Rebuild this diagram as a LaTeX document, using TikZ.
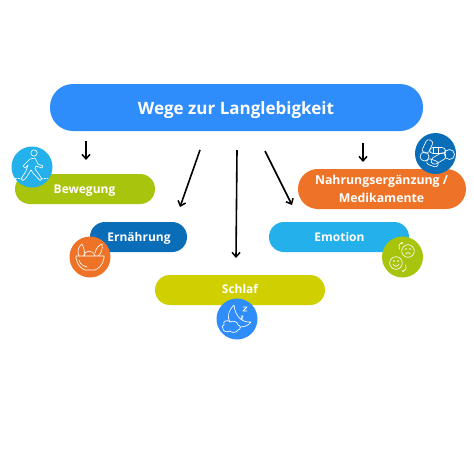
\documentclass[tikz,border=0pt]{standalone}
\usepackage{fontspec}
\setmainfont{Open Sans}
\usetikzlibrary{arrows.meta}
\definecolor{cBlue}{HTML}{2F8CFB}
\definecolor{cLime}{HTML}{A9C40C}
\definecolor{cDark}{HTML}{0A6DB8}
\definecolor{cYel}{HTML}{D0CF00}
\definecolor{cSky}{HTML}{24B0EA}
\definecolor{cOr}{HTML}{EE7326}
\tikzset{
  x=1pt,y=-1pt,
  pill/.style={font=\bfseries\fontsize{12}{15}\selectfont,text=white,align=center,inner sep=0pt,anchor=base},
  disc/.style={circle,minimum size=41pt,inner sep=0pt},
  conn/.style={draw=black,line width=1.6pt,-{Straight Barb[length=4.5pt,width=8pt,line width=1.5pt]}},
  ico/.style={draw=white,line width=.65pt,line join=round,line cap=round,fill=none}
}
\begin{document}
\begin{tikzpicture}
\useasboundingbox (0,0) rectangle (474,474);
\fill[white] (0,0) rectangle (474,474);
% bars
\fill[cBlue,rounded corners=23pt] (50,84) rectangle (423,131);
\fill[cLime,rounded corners=14.9pt] (15,174) rectangle (155,204);
\fill[cDark,rounded corners=14.9pt] (90,222) rectangle (187,252);
\fill[cYel,rounded corners=14.9pt] (155,275) rectangle (325,305);
\fill[cSky,rounded corners=14.9pt] (269,222) rectangle (409,252);
\fill[cOr,rounded corners=19.9pt] (298,169) rectangle (466,209);
% labels
\node[pill,font=\bfseries\fontsize{17}{20}\selectfont] (top) at (236,114) {Wege zur Langlebigkeit};
\node[pill] (bew) at (84.5,193.5) {Bewegung};
\node[pill] (ern) at (139,241.5) {Ernährung};
\node[pill] (sch) at (240,293.5) {Schlaf};
\node[pill] (emo) at (339.5,241) {Emotion};
\node[pill,font=\bfseries\fontsize{12.3}{17.4}\selectfont] (nah) at (381.5,184.5) {Nahrungsergänzung /};
\node[pill,font=\bfseries\fontsize{12.3}{17.4}\selectfont] (med) at (381.5,202.5) {Medikamente};
% discs
\node[disc,fill=cSky] (d1) at (32,167) {};
\node[disc,fill=cOr] (d2) at (90,257) {};
\node[disc,fill=cBlue] (d3) at (237,319) {};
\node[disc,fill=cLime] (d4) at (402.5,257) {};
\node[disc,fill=cDark] (d5) at (435.5,153.5) {};
% connectors
\coordinate (a1s) at (86,141); \coordinate (a1e) at (86,160);
\coordinate (a2s) at (200,150); \coordinate (a2e) at (180,207);
\coordinate (a3s) at (237,150); \coordinate (a3e) at (236,258);
\coordinate (a4s) at (265,151); \coordinate (a4e) at (292,205);
\coordinate (a5s) at (363,143); \coordinate (a5e) at (363,162);
\draw[conn] (a1s) -- (a1e);
\draw[conn] (a2s) -- (a2e);
\draw[conn] (a3s) -- (a3e);
\draw[conn] (a4s) -- (a4e);
\draw[conn] (a5s) -- (a5e);
% walker
\begin{scope}[shift={(d1)}]
\draw[ico] (2,-14) circle (3.2);
\draw[ico] (-2,-8) -- (3,-9) -- (6,-3) -- (11,-1) -- (10,1) -- (4,-1) -- (3,2) -- (6,6) -- (10,12) -- (8,13.5) -- (1,6) -- (-1,3) -- (-6,11) -- (-9,13.5) -- (-11,12) -- (-6,4) -- (-4,-2) -- (-7,1) -- (-9,-1) -- cycle;
\draw[ico,dash pattern=on 1.5pt off 1.5pt] (-17,11) -- (-10,11) (9,11) -- (16,11);
\end{scope}
% bowl
\begin{scope}[shift={(d2)}]
\draw[ico] (-14,-1) -- (14,-1) -- (14,1) .. controls (13,8) and (8,12) .. (5,13) -- (-5,13) .. controls (-8,12) and (-13,8) .. (-14,1) -- cycle;
\draw[ico] (-11,3) .. controls (-10,7) and (-7,9) .. (-3,10);
\draw[ico] (-11,-1) .. controls (-13,-6) and (-12,-10) .. (-8,-13) .. controls (-6,-9) and (-5,-6) .. (-6,-1);
\draw[ico] (-6,-1) .. controls (-6,-7) and (3,-8) .. (5,-1);
\draw[ico] (5,-4) .. controls (6,-9) and (9,-12) .. (12,-13) .. controls (13,-8) and (11,-3) .. (8,-1);
\end{scope}
% moon
\begin{scope}[shift={(d3)}]
\draw[ico] (-3,-14) .. controls (-9,-8) and (-10,-1) .. (-7,3) (3,8) .. controls (8,8) and (12,6) .. (14,3) .. controls (6,4) and (-2,-2) .. (-3,-14);
\draw[ico] (-13,6) .. controls (-15,2) and (-9,0) .. (-7,3) .. controls (-4,1) and (1,3) .. (1,6) .. controls (4,6) and (4,11) .. (1,11) .. controls (0,14) and (-6,14) .. (-7,12) .. controls (-10,14) and (-15,12) .. (-14,9) .. controls (-16,9) and (-15,6) .. (-13,6) -- cycle;
\draw[ico,line width=.9pt] (6,-12) -- (10,-12) -- (6,-8) -- (10,-8);
\draw[ico,line width=.9pt] (4,-3) -- (6,-3) -- (4,0) -- (6,0);
\end{scope}
% faces
\begin{scope}[shift={(d4)}]
\draw[ico] (5.5,-6) circle (6.3);
\draw[ico] (-6.5,6) circle (6.3);
\fill[white] (3.5,-8) circle (.8) (7.5,-8) circle (.8) (-8.5,4) circle (.8) (-4.5,4) circle (.8);
\draw[ico] (3,-3) .. controls (4.5,-5) and (6.5,-5) .. (8,-3);
\draw[ico] (-9.5,7) .. controls (-8,10) and (-5,10) .. (-3.5,7);
\draw[ico,-{Stealth[length=2.5pt]}] (-3,-8) .. controls (-5,-13) and (-1,-14) .. (1,-14);
\draw[ico,-{Stealth[length=2.5pt]}] (3,8) .. controls (5,12) and (2,14) .. (-1,14);
\end{scope}
% capsules
\begin{scope}[shift={(d5)}]
\draw[ico,rounded corners=3pt,rotate around={65:(-8,-7)}] (-15,-10.5) rectangle (-1,-3.5);
\draw[ico,rounded corners=3.5pt] (-6,-6) rectangle (10,0);
\draw[ico] (14,1) circle (5);
\draw[ico,rotate around={30:(3,5)},rounded corners=3.5pt] (-5,1.5) rectangle (11,8.5);
\draw[ico] (-11,3) circle (4.5);
\draw[ico,rotate around={-20:(-4,9)},rounded corners=3pt] (-9,6) rectangle (3,12);
\draw[ico] (-2,-6) -- (-2,0) (3,-6) -- (3,0);
\end{scope}
\end{tikzpicture}
\end{document}
